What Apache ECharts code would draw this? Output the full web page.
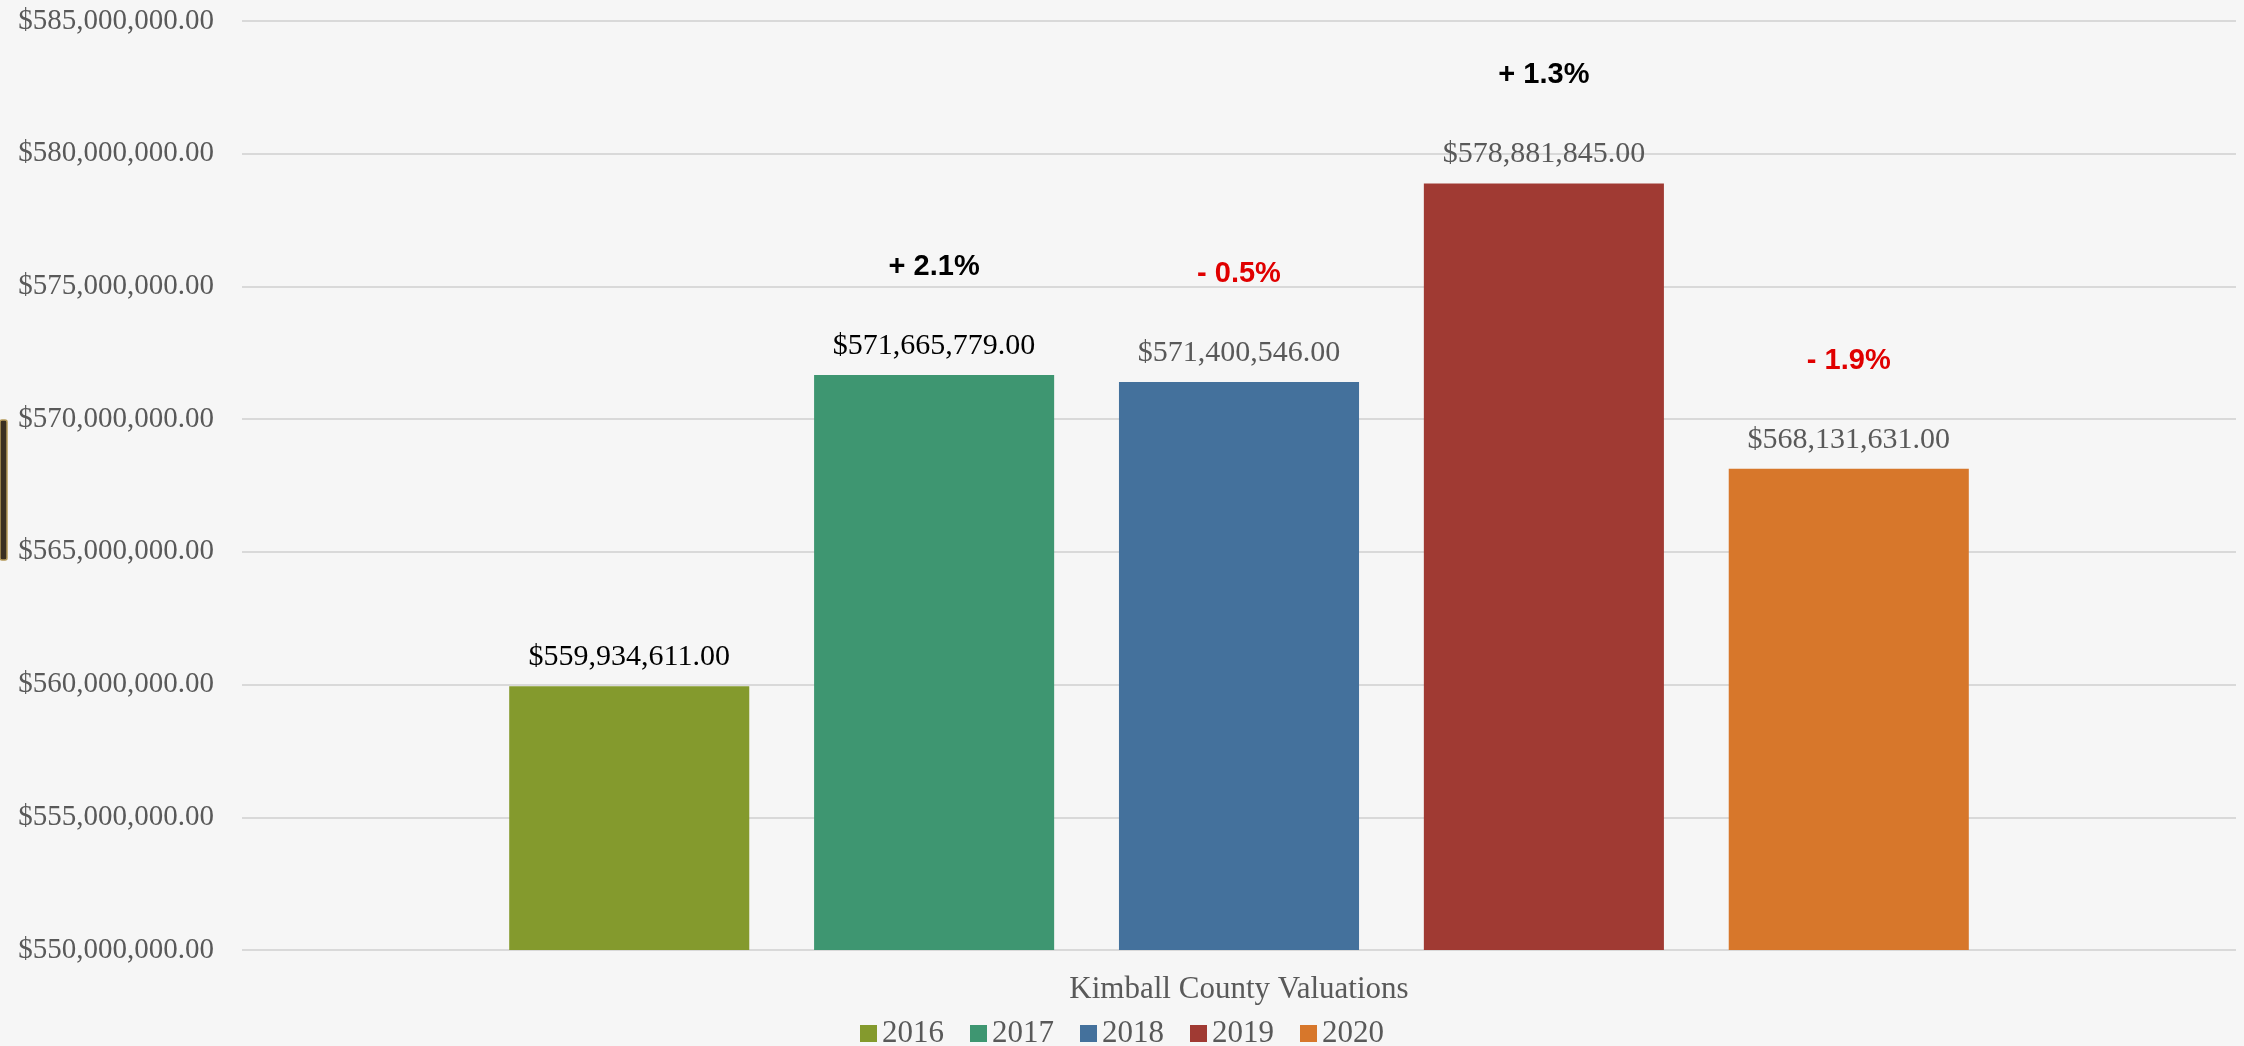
<!DOCTYPE html>
<html>
<head>
<meta charset="utf-8">
<script src="https://cdn.jsdelivr.net/npm/echarts@6/dist/echarts.min.js"></script>
<style>
html,body{margin:0;padding:0;background:#f6f6f6;}
#chart{width:2244px;height:1046px;}
</style>
</head>
<body>
<div id="chart"></div>
<script>
const categories = ['Kimball County Valuations'];
const years = ['2016', '2017', '2018', '2019', '2020'];
const valuations = [559934611, 571665779, 571400546, 578881845, 568131631];
const changeLabels = ['', '+ 2.1%', '- 0.5%', '+ 1.3%', '- 1.9%'];
const yMin = 550000000, yMax = 585000000, yStep = 5000000;

const barColors = ['#849a2d', '#3e9671', '#44719c', '#a03a33', '#d7772b'];
const darkValueLabel = [true, true, false, false, false];

function money(v) {
  const s = Math.round(v).toString().replace(/\B(?=(\d{3})+(?!\d))/g, ',');
  return '$' + s + '.00';
}

const SERIF = '"Liberation Serif", "DejaVu Serif", serif';
const SANS = '"Liberation Sans", Arial, sans-serif';

const series = years.map((y, i) => {
  const pct = changeLabels[i];
  const pctStyle = pct.trim().startsWith('-') ? 'pn' : 'pp';
  const vStyle = darkValueLabel[i] ? 'vd' : 'vg';
  return {
    name: y,
    type: 'bar',
    data: [valuations[i]],
    itemStyle: { color: barColors[i] },
    barGap: '27%',
    barCategoryGap: '26.8%',
    label: {
      show: true,
      position: 'top',
      distance: 13,
      formatter: () => (pct ? '{' + pctStyle + '|' + pct + '}\n' : '') + '{' + vStyle + '|' + money(valuations[i]) + '}',
      rich: {
        pp: { fontFamily: SANS, fontWeight: 'bold', fontSize: 29, color: '#000000', lineHeight: 126 },
        pn: { fontFamily: SANS, fontWeight: 'bold', fontSize: 29, color: '#e00000', lineHeight: 126 },
        vd: { fontFamily: SERIF, fontSize: 30, color: '#000000', lineHeight: 32 },
        vg: { fontFamily: SERIF, fontSize: 30, color: '#595959', lineHeight: 32 }
      }
    }
  };
});

const chart = echarts.init(document.getElementById('chart'), null, { renderer: 'canvas' });
chart.setOption({
  backgroundColor: '#f6f6f6',
  animation: false,
  grid: { left: 242, right: 8, top: 21, bottom: 96 },
  legend: {
    data: years,
    top: 1013,
    left: 'center',
    icon: 'rect',
    itemWidth: 17,
    itemHeight: 17,
    itemGap: 26,
    textStyle: { fontFamily: SERIF, fontSize: 31, color: '#595959' }
  },
  xAxis: {
    type: 'category',
    data: categories,
    axisLine: { show: false },
    axisTick: { show: false },
    axisLabel: { fontFamily: SERIF, fontSize: 31, color: '#595959', margin: 24 }
  },
  yAxis: {
    type: 'value',
    min: yMin,
    max: yMax,
    interval: yStep,
    axisLine: { show: false },
    axisTick: { show: false },
    splitLine: { lineStyle: { color: '#d9d9d9', width: 2 } },
    axisLabel: {
      fontFamily: SERIF, fontSize: 29, color: '#595959', margin: 28,
      formatter: (v) => money(v)
    }
  },
  graphic: [{
    type: 'rect',
    shape: { x: 0, y: 420, width: 7, height: 140, r: 2 },
    style: { fill: '#3a3022', stroke: '#b59a5a', lineWidth: 1.5 },
    silent: true
  }],
  series: series
});
</script>
</body>
</html>
